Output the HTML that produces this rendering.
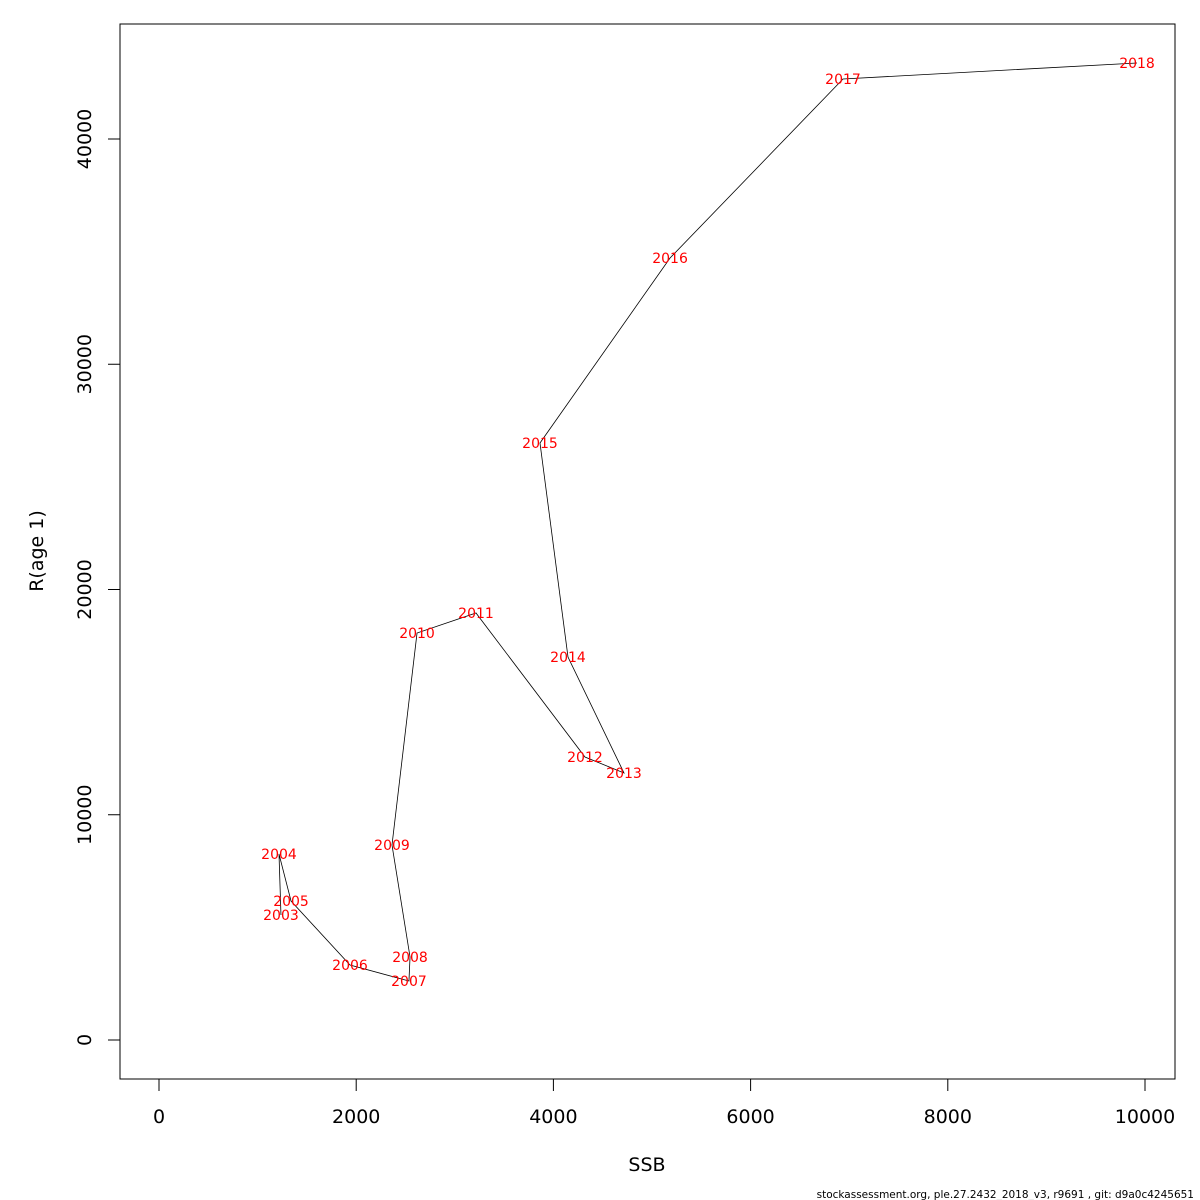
<!DOCTYPE html>
<html><head><meta charset="utf-8"><style>body{margin:0;background:#fff}svg{display:block}text{font-family:"DejaVu Sans","Liberation Sans",sans-serif}</style></head>
<body>
<svg id="c" width="1200" height="1200" xmlns="http://www.w3.org/2000/svg"></svg>
<script>
const years=[2003,2004,2005,2006,2007,2008,2009,2010,2011,2012,2013,2014,2015,2016,2017,2018];
const ssb=[1237,1217,1339,1937,2535,2546,2363,2617,3215,4320,4716,4148,3864,5183,6937,9919];
const rec=[5549,8258,6171,3330,2619,3685,8657,18069,18957,12564,11853,17003,26504,34717,42664,43374];
const xTicks=[0,2000,4000,6000,8000,10000];
const yTicks=[0,10000,20000,30000,40000];
const NS='http://www.w3.org/2000/svg';
const svg=document.getElementById('c');
const X=v=>159+v*0.0986, Y=v=>1040-v*0.022525;
function mk(t,a,p){const e=document.createElementNS(NS,t);for(const k in a)e.setAttribute(k,a[k]);(p||svg).appendChild(e);return e;}
const box=mk('rect',{x:120,y:24,width:1055,height:1055,fill:'none',stroke:'#000','stroke-width':1});


const xa=mk('g',{});


mk('line',{x1:X(0),x2:X(10000),y1:1079,y2:1079,stroke:'#000'},xa);
xTicks.forEach(v=>{mk('line',{x1:X(v),x2:X(v),y1:1079,y2:1091,stroke:'#000'},xa);
const t=mk('text',{x:X(v),y:1123,'text-anchor':'middle','font-size':19},xa);t.textContent=v;

});
const ya=mk('g',{});


mk('line',{x1:120,x2:120,y1:Y(0),y2:Y(40000),stroke:'#000'},ya);
yTicks.forEach(v=>{mk('line',{x1:108,x2:120,y1:Y(v),y2:Y(v),stroke:'#000'},ya);
const t=mk('text',{x:91,y:Y(v),'text-anchor':'middle','font-size':19,transform:`rotate(-90 91 ${Y(v)})`},ya);t.textContent=v;

});
const xt=mk('text',{x:647,y:1171,'text-anchor':'middle','font-size':19});xt.textContent='SSB';


const yt=mk('text',{x:43,y:551,'text-anchor':'middle','font-size':19,transform:'rotate(-90 43 551)'});yt.textContent='R(age 1)';


const pl=mk('polyline',{points:ssb.map((s,i)=>X(s)+','+Y(rec[i])).join(' '),fill:'none',stroke:'#000','stroke-width':0.8});


years.forEach((yr,i)=>{const t=mk('text',{x:X(ssb[i]),y:Y(rec[i])+5,'text-anchor':'middle','font-size':14,fill:'#f00'});t.textContent=yr;

});
const f=mk('text',{x:1194,y:1198,'text-anchor':'end','font-size':10.5});f.textContent='stockassessment.org, ple.27.2432_2018_v3, r9691 , git: d9a0c4245651';


</script>
</body></html>
